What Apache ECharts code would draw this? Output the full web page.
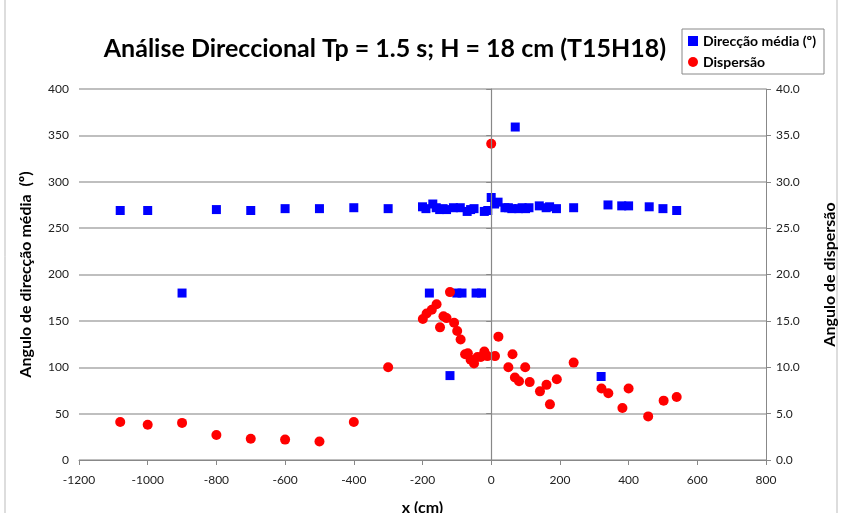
<!DOCTYPE html>
<html><head><meta charset="utf-8">
<script src="https://cdn.jsdelivr.net/npm/echarts@6/dist/echarts.min.js"></script>
<style>html,body{margin:0;padding:0;background:#fff}#c{width:842px;height:513px}</style>
</head><body><div id="c"></div>
<script>
// Direcção média (º) - left axis
const dirX = [-1080,-1000,-900,-800,-700,-600,-500,-400,-300,
  -200,-190,-180,-170,-160,-150,-140,-130,-120,-110,-100,-90,-85,-70,-60,-50,-44,-28,-20,-10,0,10,20,
  40,50,60,70,80,90,100,110,140,160,170,190,240,320,340,380,400,460,500,540];
const dirY = [269,269,180,270,269,271,271,272,271,
  273,271,180,276,272,270,271,270,91,272,180,272,180,268,270,271,180,180,268,269,283,276,278,
  272,272,271,359,271,272,271,272,274,272,273,271,272,90,275,274,274,273,271,269];
// Dispersão - right axis
const dispX = [-1080,-1000,-900,-800,-700,-600,-500,-400,-300,
  -199,-188,-173,-159,-149,-139,-130,-120,-108,-99,-89,-76,-68,-60,-50,-40,-30,-20,-11,0,11,21,
  50,62,69,81,99,112,142,161,171,191,240,321,341,382,400,457,502,540];
const dispY = [4.1,3.8,4.0,2.7,2.3,2.2,2.0,4.1,10.0,
  15.2,15.8,16.2,16.8,14.3,15.5,15.3,18.1,14.8,13.9,13.0,11.4,11.5,10.8,10.4,11.1,11.1,11.7,11.2,34.1,11.2,13.3,
  10.0,11.4,8.9,8.5,10.0,8.4,7.4,8.1,6.0,8.7,10.5,7.7,7.2,5.6,7.7,4.7,6.4,6.8];
const xTicks = {min:-1200, max:800, interval:200};

const F = 'Lato, "Open Sans", sans-serif';
const chart = echarts.init(document.getElementById('c'));
chart.setOption({
  animation:false,
  backgroundColor:'#fff',
  textStyle:{fontFamily:F},
  title:{text:'Análise Direccional Tp = 1.5 s; H = 18 cm (T15H18)', left:380, top:31, textAlign:'center',
    textStyle:{fontFamily:F, fontSize:25, fontWeight:'bold', color:'#000'}},
  legend:{orient:'vertical', left:682, top:29, itemWidth:10, itemHeight:10, itemGap:7,
    borderColor:'#888', borderWidth:1, padding:[5,8,5,6],
    textStyle:{fontFamily:F, fontSize:14, fontWeight:'bold', color:'#000'},
    data:[{name:'Direcção média (º)', icon:'rect'},{name:'Dispersão', icon:'circle'}]},
  graphic:[{type:'rect', shape:{x:5, y:-5, width:832, height:530}, style:{fill:'none', stroke:'#bbb', lineWidth:1}, silent:true}],
  grid:{left:79, right:76, top:89, bottom:53, containLabel:false, outerBoundsMode:'none'},
  xAxis:{type:'value', min:xTicks.min, max:xTicks.max, interval:xTicks.interval,
    name:'x (cm)', nameLocation:'middle', nameGap:40,
    nameTextStyle:{fontFamily:F, fontSize:16, fontWeight:'bold', color:'#000'},
    axisLine:{show:true, onZero:false, lineStyle:{color:'#888'}},
    axisTick:{show:true, length:5, lineStyle:{color:'#888'}},
    axisLabel:{fontSize:12, color:'#222', margin:14, formatter:v=>String(v)},
    splitLine:{show:false}},
  yAxis:[
    {type:'value', min:0, max:400, interval:50, position:'left',
     name:'Angulo de direcção média  (º)', nameLocation:'middle', nameGap:45, nameRotate:90,
     nameTextStyle:{fontFamily:F, fontSize:16, fontWeight:'bold', color:'#000'},
     axisLine:{show:true, lineStyle:{color:'#888'}},
     axisTick:{show:true, length:5, lineStyle:{color:'#888'}},
     axisLabel:{fontSize:12, color:'#222', margin:10},
     splitLine:{show:true, lineStyle:{color:'#aaa', width:1.5}}},
    {type:'value', min:0, max:40, interval:5, position:'right',
     name:'Angulo de dispersão', nameLocation:'middle', nameGap:56, nameRotate:90,
     nameTextStyle:{fontFamily:F, fontSize:16, fontWeight:'bold', color:'#000'},
     axisLine:{show:true, lineStyle:{color:'#888'}},
     axisTick:{show:true, length:5, lineStyle:{color:'#888'}},
     axisLabel:{fontSize:12, color:'#222', margin:10, formatter:v=>v.toFixed(1)},
     splitLine:{show:false}}
  ],
  series:[
    {name:'Direcção média (º)', type:'scatter', yAxisIndex:0, symbol:'rect', symbolSize:9,
     itemStyle:{color:'#0000ff', opacity:1}, z:3,
     data:dirX.map((x,i)=>[x,dirY[i]]),
     markLine:{silent:true, symbol:'none', label:{show:false}, lineStyle:{color:'#888', type:'solid', width:1.2},
       data:[{xAxis:0}]}},
    {name:'Dispersão', type:'scatter', yAxisIndex:1, symbol:'circle', symbolSize:10,
     itemStyle:{color:'#ff0000', opacity:1}, z:4,
     data:dispX.map((x,i)=>[x,dispY[i]])}
  ]
});
</script></body></html>
